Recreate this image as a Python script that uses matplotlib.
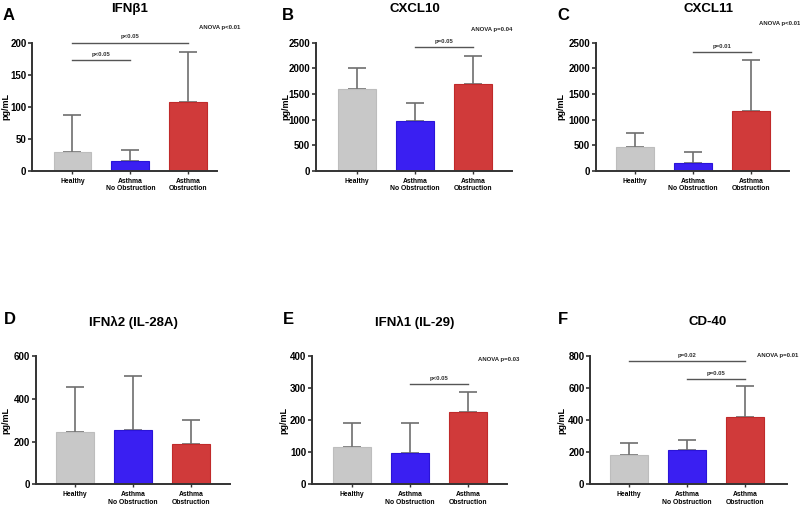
import numpy as np
import matplotlib
matplotlib.use("Agg")
import matplotlib.pyplot as plt

plt.rcParams["font.family"] = ["Liberation Sans", "DejaVu Sans"]

## Datos
grupos = ["Healthy", "Asthma\nNo Obstruction", "Asthma\nObstruction"]
colores = ["#c8c8c8", "#3a1ff2", "#d03a3a"]
bordes = ["#bdbdbd", "#2a14d8", "#c02a2a"]

titulos = ["IFN\u03b21", "CXCL10", "CXCL11", "IFN\u03bb2 (IL-28A)", "IFN\u03bb1 (IL-29)", "CD-40"]
letras = ["A", "B", "C", "D", "E", "F"]

media_a = [30, 15, 107]
sup_a = [88, 33, 185]
media_b = [1590, 965, 1700]
sup_b = [2000, 1330, 2250]
media_c = [470, 150, 1170]
sup_c = [740, 365, 2160]
media_d = [245, 252, 187]
sup_d = [455, 508, 300]
media_e = [115, 97, 225]
sup_e = [190, 190, 288]
media_f = [185, 215, 420]
sup_f = [255, 275, 615]

ylims = [200, 2500, 2500, 600, 400, 800]
yticks = [[0, 50, 100, 150, 200],
          [0, 500, 1000, 1500, 2000, 2500],
          [0, 500, 1000, 1500, 2000, 2500],
          [0, 200, 400, 600],
          [0, 100, 200, 300, 400],
          [0, 200, 400, 600, 800]]
anova = ["ANOVA p<0.01", "ANOVA p=0.04", "ANOVA p<0.01", None, "ANOVA p=0.03", "ANOVA p=0.01"]
# (desde, hasta, altura, texto)
corchetes = [[(0, 1, 173, "p<0.05"), (0, 2, 200, "p<0.05")],
             [(1, 2, 2416, "p=0.05")],
             [(1, 2, 2312, "p=0.01")],
             [],
             [(1, 2, 312, "p<0.05")],
             [(0, 2, 769, "p=0.02"), (1, 2, 655, "p=0.05")]]

medias = [media_a, media_b, media_c, media_d, media_e, media_f]
superiores = [sup_a, sup_b, sup_c, sup_d, sup_e, sup_f]

## Posiciones de los paneles (pixeles)
W, H = 800, 505
cajas = [(32, 217, 171, 42.7), (315.7, 511.7, 171, 42.7), (595.7, 789, 171, 42.7),
         (35.7, 230, 484.3, 356), (311.7, 506.7, 484.3, 356), (590, 787, 484.3, 356)]
xlims = [(-0.70, 2.50), (-0.71, 2.67), (-0.68, 2.66),
         (-0.675, 2.675), (-0.69, 2.67), (-0.67, 2.72)]
anova_pos = [(240, 27), (512, 29), (800, 23), None, (519, 360), (798, 356)]
titulo_pos = [(130, 9), (415, 9), (708, 9), (133, 322), (415, 322), (708, 322)]
ylabel_x = [6, 285.5, 561, 6, 284, 561.5]

fig = plt.figure(figsize=(W / 100, H / 100), dpi=100)
eje_color = "#333333"

for i in range(6):
    x0, x1, yb, yt = cajas[i]
    ax = fig.add_axes([x0 / W, 1 - yb / H, (x1 - x0) / W, (yb - yt) / H])
    x = np.arange(3)
    m = np.array(medias[i])
    s = np.array(superiores[i])
    ax.bar(x, m, width=0.655, color=colores, edgecolor=bordes, linewidth=0.8, zorder=2)
    ax.errorbar(x, m, yerr=[np.zeros(3), s - m], fmt="none", ecolor="#6e6e6e",
                elinewidth=1.2, capsize=6.5, capthick=1.2, zorder=1)
    ax.set_xlim(*xlims[i])
    ax.set_ylim(0, ylims[i])
    ax.set_yticks(yticks[i])
    ax.set_xticks(x)
    ax.set_xticklabels(grupos, fontsize=4.9, fontweight="bold", linespacing=1.1)
    for lab in ax.get_yticklabels():
        lab.set_fontweight("bold")
        lab.set_fontsize(7)
    ax.tick_params(axis="y", length=3, width=1.2, color=eje_color, pad=1)
    ax.tick_params(axis="x", length=2.5, width=1.0, color=eje_color, pad=2.5)
    for lado in ["top", "right"]:
        ax.spines[lado].set_visible(False)
    for lado in ["left", "bottom"]:
        ax.spines[lado].set_linewidth(1.4)
        ax.spines[lado].set_color(eje_color)
    ax.set_ylabel("pg/mL", fontsize=6.5, fontweight="bold")
    ax.yaxis.set_label_coords((ylabel_x[i] + 4.5 - x0) / (x1 - x0), 0.5)
    ax.patch.set_alpha(0)
    for (a, b, h, txt) in corchetes[i]:
        ax.plot([a, b], [h, h], color="#555555", lw=1.0, clip_on=False)
        ax.text((a + b) / 2, h + ylims[i] * 0.025, txt, ha="center", va="bottom",
                fontsize=4.3, fontweight="bold", color="#333333")
    if anova[i]:
        px, py = anova_pos[i]
        fig.text(px / W, 1 - py / H, anova[i], ha="right", va="center",
                 fontsize=4.3, fontweight="bold", color="#222222")
    tx, ty = titulo_pos[i]
    fig.text(tx / W, 1 - ty / H, titulos[i], ha="center", va="center",
             fontsize=9.5, fontweight="bold")

## Letras de los paneles
letra_pos = [(9, 15), (288, 15), (563, 15), (10, 320), (288, 320), (563, 320)]
for l, (px, py) in zip(letras, letra_pos):
    fig.text(px / W, 1 - py / H, l, ha="center", va="center", fontsize=12, fontweight="bold")

fig.savefig("out.png", dpi=100)
